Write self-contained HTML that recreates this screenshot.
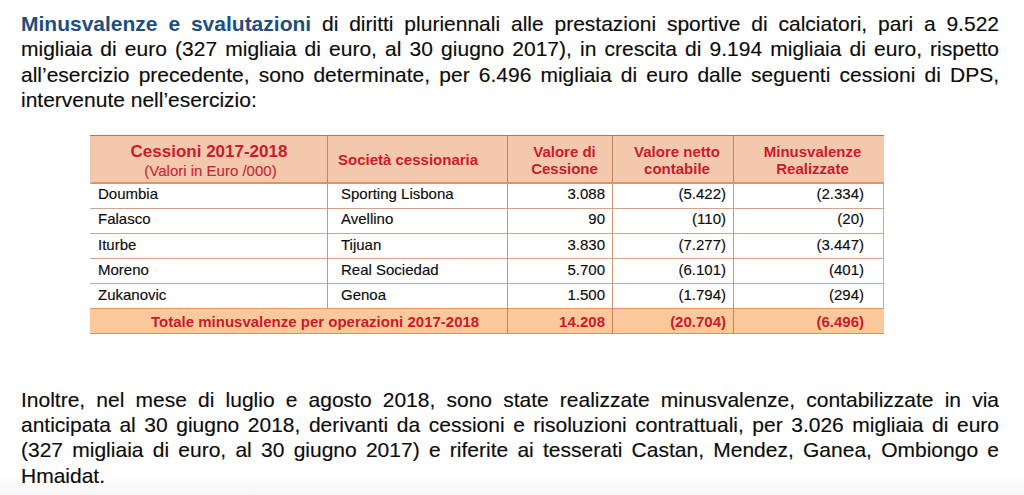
<!DOCTYPE html>
<html lang="it">
<head>
<meta charset="utf-8">
<title>Minusvalenze e svalutazioni</title>
<style>
  html, body { margin: 0; padding: 0; }
  body {
    width: 1024px; height: 495px; overflow: hidden; position: relative;
    background: #ffffff;
    font-family: "Liberation Sans", Arial, Helvetica, sans-serif;
    color: #0c0c0c;
  }
  .shade {
    position: absolute; left: 0; top: 474px; width: 1024px; height: 21px;
    background: linear-gradient(to bottom, rgba(0,0,0,0) 0%, rgba(0,0,0,0.02) 50%, rgba(0,0,0,0.04) 100%);
  }
  .ln {
    position: absolute; left: 21px; width: 978px;
    font-size: 21px; line-height: 25px; height: 25px;
    white-space: nowrap;
    text-align: justify; text-align-last: justify;
  }
  .ln.last { text-align: left; text-align-last: left; }
  .ttl { color: #1f4e7d; font-weight: bold; }

  .tbl { position: absolute; left: 0; top: 0; }
  .box { position: absolute; }
  .hdr { left: 90px; top: 135px; width: 794px; height: 48px; background: #f4c8ad; }
  .tot { left: 90px; top: 308px; width: 794px; height: 25px; background: #fbc99b; }
  .hl { position: absolute; height: 1px; background: #d4a687; }
  .vl { position: absolute; width: 1px; background: #c99676; }
  .t { position: absolute; white-space: nowrap; font-size: 15px; line-height: 17px; }
  .h { color: #ca1b2c; font-weight: bold; text-align: center; }
  .r { text-align: right; }
  .red { color: #ca1b2c; font-weight: bold; }
  .t, .ln { -webkit-text-stroke: 0.15px currentColor; }
  .h, .red, .ttl { -webkit-text-stroke: 0; }
</style>
</head>
<body>
  <div class="ln" style="top:10.7px"><span class="ttl">Minusvalenze e svalutazioni</span> di diritti pluriennali alle prestazioni sportive di calciatori, pari a 9.522</div>
  <div class="ln" style="top:36px">migliaia di euro (327 migliaia di euro, al 30 giugno 2017), in crescita di 9.194 migliaia di euro, rispetto</div>
  <div class="ln" style="top:61.5px">all’esercizio precedente, sono determinate, per 6.496 migliaia di euro dalle seguenti cessioni di DPS,</div>
  <div class="ln last" style="top:87px">intervenute nell’esercizio:</div>

  <!-- table -->
  <div class="box hdr"></div>
  <div class="box tot"></div>
  <!-- horizontal lines -->
  <div class="hl" style="left:90px;top:135px;width:794px;background:#a97a5c"></div>
  <div class="hl" style="left:90px;top:182px;width:794px;height:1.5px;background:#de9462"></div>
  <div class="hl" style="left:90px;top:208px;width:794px"></div>
  <div class="hl" style="left:90px;top:233px;width:794px"></div>
  <div class="hl" style="left:90px;top:258px;width:794px"></div>
  <div class="hl" style="left:90px;top:283px;width:794px"></div>
  <div class="hl" style="left:90px;top:308px;width:794px;background:#e09a6a"></div>
  <div class="hl" style="left:90px;top:333px;width:794px;background:#d8925f"></div>
  <!-- vertical lines -->
  <div class="vl" style="left:90px;top:136px;height:47px;width:2px;background:#ecc6b0"></div>
  <div class="vl" style="left:327px;top:135px;height:48px;background:#c4845e"></div>
  <div class="vl" style="left:507px;top:135px;height:48px;background:#c4845e"></div>
  <div class="vl" style="left:612px;top:135px;height:48px;background:#c4845e"></div>
  <div class="vl" style="left:733px;top:135px;height:48px;background:#c4845e"></div>
  <div class="vl" style="left:327px;top:183px;height:125px"></div>
  <div class="vl" style="left:507px;top:183px;height:125px"></div>
  <div class="vl" style="left:612px;top:183px;height:125px"></div>
  <div class="vl" style="left:733px;top:183px;height:125px"></div>
  <div class="vl" style="left:507px;top:308px;height:26px;background:#bf8460"></div>
  <div class="vl" style="left:612px;top:308px;height:26px;background:#bf8460"></div>
  <div class="vl" style="left:733px;top:308px;height:26px;background:#bf8460"></div>
  <div class="vl" style="left:883px;top:183px;height:125px;background:#d3a68c"></div>

  <!-- header text -->
  <div class="t h" style="left:86px;top:143px;width:246px;font-size:17px;line-height:18px">Cessioni 2017-2018</div>
  <div class="t" style="left:87.5px;top:161.5px;width:246px;text-align:center;color:#c92636">(Valori in Euro /000)</div>
  <div class="t h" style="left:338px;top:151px;text-align:left">Società cessionaria</div>
  <div class="t h" style="left:512px;top:143.3px;width:105px">Valore di<br>Cessione</div>
  <div class="t h" style="left:617px;top:143.3px;width:120px">Valore netto<br>contabile</div>
  <div class="t h" style="left:737px;top:143.3px;width:151px">Minusvalenze<br>Realizzate</div>

  <!-- body rows -->
  <div class="t" style="left:98px;top:185px">Doumbia</div>
  <div class="t" style="left:341px;top:185px">Sporting Lisbona</div>
  <div class="t r" style="left:507px;top:185px;width:98px">3.088</div>
  <div class="t r" style="left:612px;top:185px;width:114px">(5.422)</div>
  <div class="t r" style="left:733px;top:185px;width:131px">(2.334)</div>

  <div class="t" style="left:98px;top:210.2px">Falasco</div>
  <div class="t" style="left:341px;top:210.2px">Avellino</div>
  <div class="t r" style="left:507px;top:210.2px;width:98px">90</div>
  <div class="t r" style="left:612px;top:210.2px;width:114px">(110)</div>
  <div class="t r" style="left:733px;top:210.2px;width:131px">(20)</div>

  <div class="t" style="left:98px;top:235.5px">Iturbe</div>
  <div class="t" style="left:341px;top:235.5px">Tijuan</div>
  <div class="t r" style="left:507px;top:235.5px;width:98px">3.830</div>
  <div class="t r" style="left:612px;top:235.5px;width:114px">(7.277)</div>
  <div class="t r" style="left:733px;top:235.5px;width:131px">(3.447)</div>

  <div class="t" style="left:98px;top:260.7px">Moreno</div>
  <div class="t" style="left:341px;top:260.7px">Real Sociedad</div>
  <div class="t r" style="left:507px;top:260.7px;width:98px">5.700</div>
  <div class="t r" style="left:612px;top:260.7px;width:114px">(6.101)</div>
  <div class="t r" style="left:733px;top:260.7px;width:131px">(401)</div>

  <div class="t" style="left:98px;top:286px">Zukanovic</div>
  <div class="t" style="left:341px;top:286px">Genoa</div>
  <div class="t r" style="left:507px;top:286px;width:98px">1.500</div>
  <div class="t r" style="left:612px;top:286px;width:114px">(1.794)</div>
  <div class="t r" style="left:733px;top:286px;width:131px">(294)</div>

  <div class="t red" style="left:151px;top:312.5px">Totale minusvalenze per operazioni 2017-2018</div>
  <div class="t r red" style="left:507px;top:312.5px;width:98px">14.208</div>
  <div class="t r red" style="left:612px;top:312.5px;width:114px">(20.704)</div>
  <div class="t r red" style="left:733px;top:312.5px;width:131px">(6.496)</div>

  <div class="ln" style="top:386.7px">Inoltre, nel mese di luglio e agosto 2018, sono state realizzate minusvalenze, contabilizzate in via</div>
  <div class="ln" style="top:412px">anticipata al 30 giugno 2018, derivanti da cessioni e risoluzioni contrattuali, per 3.026 migliaia di euro</div>
  <div class="ln" style="top:437.3px">(327 migliaia di euro, al 30 giugno 2017) e riferite ai tesserati Castan, Mendez, Ganea, Ombiongo e</div>
  <div class="ln last" style="top:463px">Hmaidat.</div>

  <div class="shade"></div>
</body>
</html>
